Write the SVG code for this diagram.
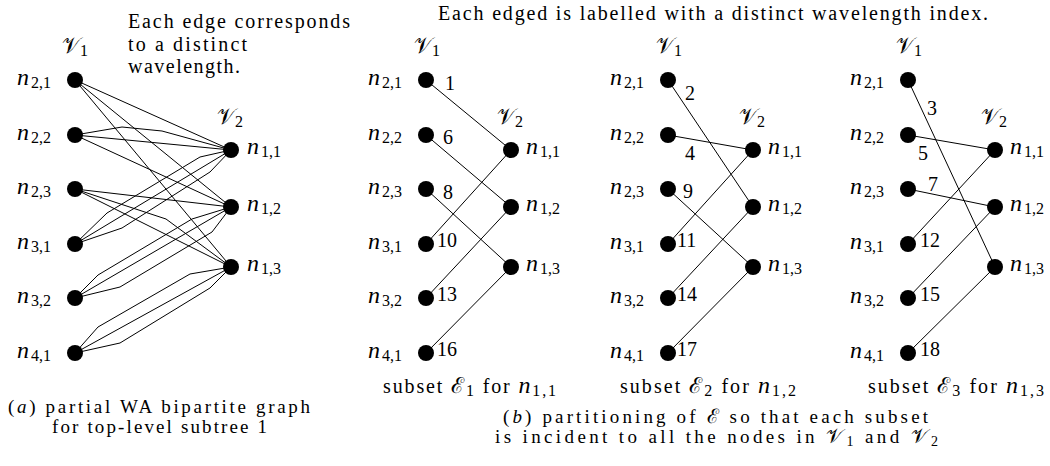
<svg xmlns="http://www.w3.org/2000/svg" width="1050" height="466" viewBox="0 0 1050 466">
<style>
text{font-family:"Liberation Serif","Times New Roman",serif;fill:#000;font-size:20px}
.it{font-style:italic}
.nl{font-size:24px;font-style:italic}
.sb{font-size:16px;font-style:normal}
.cv{font-size:22px}
.cap{font-size:19px}
.cap .sb{font-size:14px}
.cap .cv{font-size:20px}
.el{font-size:20px}
.edges line,.edges polyline{stroke:#000;stroke-width:1;fill:none}
.dot{fill:#000}
</style>
<defs><circle id="d" r="8" class="dot"/></defs>
<rect width="1050" height="466" fill="#fff"/>

<!-- texts -->
<text x="128" y="28" textLength="222" lengthAdjust="spacing">Each edge corresponds</text>
<text x="128" y="51" textLength="119" lengthAdjust="spacing">to a distinct</text>
<text x="128" y="73" textLength="112" lengthAdjust="spacing">wavelength.</text>
<text x="438" y="20" textLength="550" lengthAdjust="spacing">Each edged is labelled with a distinct wavelength index.</text>
<text class="cap" x="8" y="413" textLength="302" lengthAdjust="spacing">(<tspan class="it">a</tspan>) partial WA bipartite graph</text>
<text class="cap" x="52" y="433" textLength="215" lengthAdjust="spacing">for top-level subtree 1</text>
<text x="383" y="393" textLength="173" lengthAdjust="spacing">subset <tspan class="cv">ℰ</tspan><tspan class="sb" dy="3">1</tspan><tspan dy="-3"> for </tspan><tspan class="nl">n</tspan><tspan class="sb" dy="3">1,1</tspan></text>
<text x="620" y="393" textLength="176" lengthAdjust="spacing">subset <tspan class="cv">ℰ</tspan><tspan class="sb" dy="3">2</tspan><tspan dy="-3"> for </tspan><tspan class="nl">n</tspan><tspan class="sb" dy="3">1,2</tspan></text>
<text x="868" y="393" textLength="176" lengthAdjust="spacing">subset <tspan class="cv">ℰ</tspan><tspan class="sb" dy="3">3</tspan><tspan dy="-3"> for </tspan><tspan class="nl">n</tspan><tspan class="sb" dy="3">1,3</tspan></text>
<text class="cap" x="503" y="423" textLength="425" lengthAdjust="spacing">(<tspan class="it">b</tspan>) partitioning of <tspan class="cv">ℰ</tspan> so that each subset</text>
<text class="cap" x="495" y="443" textLength="443" lengthAdjust="spacing">is incident to all the nodes in <tspan class="cv">𝒱</tspan><tspan class="sb" dy="3">1</tspan><tspan dy="-3"> and </tspan><tspan class="cv">𝒱</tspan><tspan class="sb" dy="3">2</tspan></text>

<!-- set labels -->
<g id="a-V1"><text x="62" y="53"><tspan class="cv">𝒱</tspan><tspan class="sb" dy="3">1</tspan></text></g>
<g id="a-V2"><text x="217" y="124"><tspan class="cv">𝒱</tspan><tspan class="sb" dy="3">2</tspan></text></g>
<g id="b1-V1"><text x="414" y="53"><tspan class="cv">𝒱</tspan><tspan class="sb" dy="3">1</tspan></text></g>
<g id="b1-V2"><text x="497" y="124"><tspan class="cv">𝒱</tspan><tspan class="sb" dy="3">2</tspan></text></g>
<g id="b2-V1"><text x="656" y="53"><tspan class="cv">𝒱</tspan><tspan class="sb" dy="3">1</tspan></text></g>
<g id="b2-V2"><text x="739" y="124"><tspan class="cv">𝒱</tspan><tspan class="sb" dy="3">2</tspan></text></g>
<g id="b3-V1"><text x="896" y="53"><tspan class="cv">𝒱</tspan><tspan class="sb" dy="3">1</tspan></text></g>
<g id="b3-V2"><text x="981" y="124"><tspan class="cv">𝒱</tspan><tspan class="sb" dy="3">2</tspan></text></g>

<!-- connectors -->
<g id="connectors" class="edges">
<!-- panel a -->
<line x1="75" y1="80" x2="231" y2="150"/>
<line x1="75" y1="80" x2="231" y2="207"/>
<line x1="75" y1="80" x2="231" y2="267"/>
<line x1="75" y1="135" x2="231" y2="150"/>
<polyline points="75,135 122,127 162,131 231,150"/>
<line x1="75" y1="135" x2="231" y2="207"/>
<line x1="75" y1="189" x2="231" y2="207"/>
<line x1="75" y1="189" x2="231" y2="267"/>
<polyline points="75,189 166,219 231,267"/>
<line x1="75" y1="244" x2="231" y2="150"/>
<polyline points="75,244 107,213 200,157 231,150"/>
<polyline points="75,244 122,228 210,172 231,150"/>
<line x1="75" y1="298" x2="231" y2="207"/>
<polyline points="75,298 98,275 192,219 231,207"/>
<polyline points="75,298 120,287 212,232 231,207"/>
<line x1="75" y1="353" x2="231" y2="267"/>
<polyline points="75,353 98,327 190,274 231,267"/>
<polyline points="75,353 120,343 210,288 231,267"/>
<!-- subset 1 -->
<line x1="426" y1="80" x2="511" y2="150"/>
<line x1="426" y1="135" x2="511" y2="207"/>
<line x1="426" y1="189" x2="511" y2="267"/>
<line x1="426" y1="244" x2="511" y2="150"/>
<line x1="426" y1="298" x2="511" y2="207"/>
<line x1="426" y1="353" x2="511" y2="267"/>
<!-- subset 2 -->
<line x1="668" y1="80" x2="753" y2="207"/>
<line x1="668" y1="135" x2="753" y2="150"/>
<line x1="668" y1="189" x2="753" y2="267"/>
<line x1="668" y1="244" x2="753" y2="150"/>
<line x1="668" y1="298" x2="753" y2="207"/>
<line x1="668" y1="353" x2="753" y2="267"/>
<!-- subset 3 -->
<line x1="908" y1="80" x2="995" y2="267"/>
<line x1="908" y1="135" x2="995" y2="150"/>
<line x1="908" y1="189" x2="995" y2="207"/>
<line x1="908" y1="244" x2="995" y2="150"/>
<line x1="908" y1="298" x2="995" y2="207"/>
<line x1="908" y1="353" x2="995" y2="267"/>
</g>

<!-- edge labels -->
<g id="edge-labels" class="el">
<text x="445" y="90">1</text><text x="443" y="144">6</text><text x="443" y="199">8</text>
<text x="437" y="247">10</text><text x="437" y="301">13</text><text x="437" y="356">16</text>
<text x="685" y="100">2</text><text x="685" y="160">4</text><text x="683" y="198">9</text>
<text x="677" y="247">11</text><text x="677" y="301">14</text><text x="677" y="356">17</text>
<text x="927" y="115">3</text><text x="918" y="160">5</text><text x="928" y="191">7</text>
<text x="920" y="247">12</text><text x="920" y="301">15</text><text x="920" y="356">18</text>
</g>

<!-- panel a nodes -->
<g id="a-n21"><use href="#d" x="75" y="80"/><text x="17" y="85"><tspan class="nl">n</tspan><tspan class="sb" dx="2" dy="3">2,1</tspan></text></g>
<g id="a-n22"><use href="#d" x="75" y="135"/><text x="17" y="140"><tspan class="nl">n</tspan><tspan class="sb" dx="2" dy="3">2,2</tspan></text></g>
<g id="a-n23"><use href="#d" x="75" y="189"/><text x="17" y="194"><tspan class="nl">n</tspan><tspan class="sb" dx="2" dy="3">2,3</tspan></text></g>
<g id="a-n31"><use href="#d" x="75" y="244"/><text x="17" y="249"><tspan class="nl">n</tspan><tspan class="sb" dx="2" dy="3">3,1</tspan></text></g>
<g id="a-n32"><use href="#d" x="75" y="298"/><text x="17" y="303"><tspan class="nl">n</tspan><tspan class="sb" dx="2" dy="3">3,2</tspan></text></g>
<g id="a-n41"><use href="#d" x="75" y="353"/><text x="17" y="358"><tspan class="nl">n</tspan><tspan class="sb" dx="2" dy="3">4,1</tspan></text></g>
<g id="a-n11"><use href="#d" x="231" y="150"/><text x="247" y="154"><tspan class="nl">n</tspan><tspan class="sb" dx="2" dy="3">1,1</tspan></text></g>
<g id="a-n12"><use href="#d" x="231" y="207"/><text x="247" y="211"><tspan class="nl">n</tspan><tspan class="sb" dx="2" dy="3">1,2</tspan></text></g>
<g id="a-n13"><use href="#d" x="231" y="267"/><text x="247" y="271"><tspan class="nl">n</tspan><tspan class="sb" dx="2" dy="3">1,3</tspan></text></g>

<!-- subset 1 nodes -->
<g id="b1-n21"><use href="#d" x="426" y="80"/><text x="368" y="85"><tspan class="nl">n</tspan><tspan class="sb" dx="2" dy="3">2,1</tspan></text></g>
<g id="b1-n22"><use href="#d" x="426" y="135"/><text x="368" y="140"><tspan class="nl">n</tspan><tspan class="sb" dx="2" dy="3">2,2</tspan></text></g>
<g id="b1-n23"><use href="#d" x="426" y="189"/><text x="368" y="194"><tspan class="nl">n</tspan><tspan class="sb" dx="2" dy="3">2,3</tspan></text></g>
<g id="b1-n31"><use href="#d" x="426" y="244"/><text x="368" y="249"><tspan class="nl">n</tspan><tspan class="sb" dx="2" dy="3">3,1</tspan></text></g>
<g id="b1-n32"><use href="#d" x="426" y="298"/><text x="368" y="303"><tspan class="nl">n</tspan><tspan class="sb" dx="2" dy="3">3,2</tspan></text></g>
<g id="b1-n41"><use href="#d" x="426" y="353"/><text x="368" y="358"><tspan class="nl">n</tspan><tspan class="sb" dx="2" dy="3">4,1</tspan></text></g>
<g id="b1-n11"><use href="#d" x="511" y="150"/><text x="526" y="154"><tspan class="nl">n</tspan><tspan class="sb" dx="2" dy="3">1,1</tspan></text></g>
<g id="b1-n12"><use href="#d" x="511" y="207"/><text x="526" y="211"><tspan class="nl">n</tspan><tspan class="sb" dx="2" dy="3">1,2</tspan></text></g>
<g id="b1-n13"><use href="#d" x="511" y="267"/><text x="526" y="271"><tspan class="nl">n</tspan><tspan class="sb" dx="2" dy="3">1,3</tspan></text></g>

<!-- subset 2 nodes -->
<g id="b2-n21"><use href="#d" x="668" y="80"/><text x="610" y="85"><tspan class="nl">n</tspan><tspan class="sb" dx="2" dy="3">2,1</tspan></text></g>
<g id="b2-n22"><use href="#d" x="668" y="135"/><text x="610" y="140"><tspan class="nl">n</tspan><tspan class="sb" dx="2" dy="3">2,2</tspan></text></g>
<g id="b2-n23"><use href="#d" x="668" y="189"/><text x="610" y="194"><tspan class="nl">n</tspan><tspan class="sb" dx="2" dy="3">2,3</tspan></text></g>
<g id="b2-n31"><use href="#d" x="668" y="244"/><text x="610" y="249"><tspan class="nl">n</tspan><tspan class="sb" dx="2" dy="3">3,1</tspan></text></g>
<g id="b2-n32"><use href="#d" x="668" y="298"/><text x="610" y="303"><tspan class="nl">n</tspan><tspan class="sb" dx="2" dy="3">3,2</tspan></text></g>
<g id="b2-n41"><use href="#d" x="668" y="353"/><text x="610" y="358"><tspan class="nl">n</tspan><tspan class="sb" dx="2" dy="3">4,1</tspan></text></g>
<g id="b2-n11"><use href="#d" x="753" y="150"/><text x="768" y="154"><tspan class="nl">n</tspan><tspan class="sb" dx="2" dy="3">1,1</tspan></text></g>
<g id="b2-n12"><use href="#d" x="753" y="207"/><text x="768" y="211"><tspan class="nl">n</tspan><tspan class="sb" dx="2" dy="3">1,2</tspan></text></g>
<g id="b2-n13"><use href="#d" x="753" y="267"/><text x="768" y="271"><tspan class="nl">n</tspan><tspan class="sb" dx="2" dy="3">1,3</tspan></text></g>

<!-- subset 3 nodes -->
<g id="b3-n21"><use href="#d" x="908" y="80"/><text x="850" y="85"><tspan class="nl">n</tspan><tspan class="sb" dx="2" dy="3">2,1</tspan></text></g>
<g id="b3-n22"><use href="#d" x="908" y="135"/><text x="850" y="140"><tspan class="nl">n</tspan><tspan class="sb" dx="2" dy="3">2,2</tspan></text></g>
<g id="b3-n23"><use href="#d" x="908" y="189"/><text x="850" y="194"><tspan class="nl">n</tspan><tspan class="sb" dx="2" dy="3">2,3</tspan></text></g>
<g id="b3-n31"><use href="#d" x="908" y="244"/><text x="850" y="249"><tspan class="nl">n</tspan><tspan class="sb" dx="2" dy="3">3,1</tspan></text></g>
<g id="b3-n32"><use href="#d" x="908" y="298"/><text x="850" y="303"><tspan class="nl">n</tspan><tspan class="sb" dx="2" dy="3">3,2</tspan></text></g>
<g id="b3-n41"><use href="#d" x="908" y="353"/><text x="850" y="358"><tspan class="nl">n</tspan><tspan class="sb" dx="2" dy="3">4,1</tspan></text></g>
<g id="b3-n11"><use href="#d" x="995" y="150"/><text x="1010" y="154"><tspan class="nl">n</tspan><tspan class="sb" dx="2" dy="3">1,1</tspan></text></g>
<g id="b3-n12"><use href="#d" x="995" y="207"/><text x="1010" y="211"><tspan class="nl">n</tspan><tspan class="sb" dx="2" dy="3">1,2</tspan></text></g>
<g id="b3-n13"><use href="#d" x="995" y="267"/><text x="1010" y="271"><tspan class="nl">n</tspan><tspan class="sb" dx="2" dy="3">1,3</tspan></text></g>
</svg>
